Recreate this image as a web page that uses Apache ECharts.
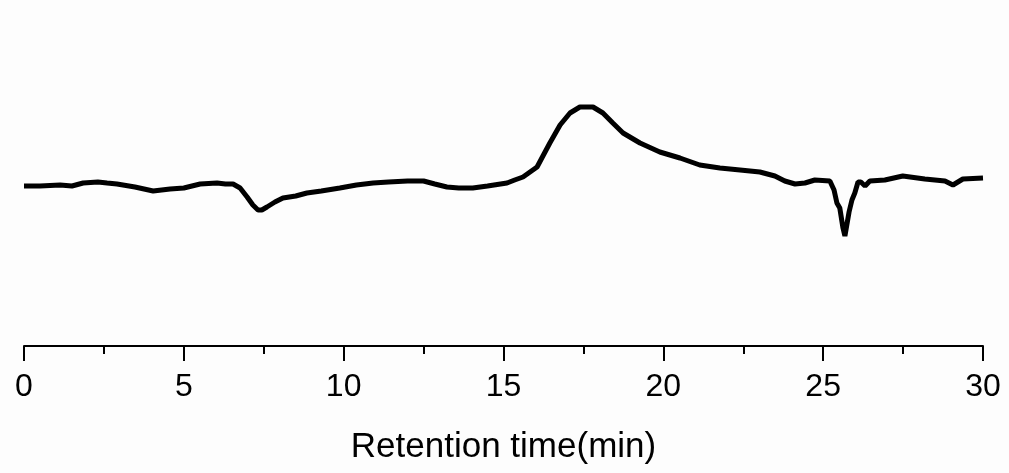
<!DOCTYPE html>
<html>
<head>
<meta charset="utf-8">
<script src="https://cdn.jsdelivr.net/npm/echarts@6/dist/echarts.min.js"></script>
<style>
html,body{margin:0;padding:0;background:#fdfdfd;}
#chart{width:1009px;height:473px;}
</style>
</head>
<body>
<div id="chart"></div>
<script>
// Retention time (min)
const times = [0.00,0.50,1.13,1.50,1.85,2.31,2.60,2.91,3.47,4.04,4.57,5.00,5.51,6.04,6.30,6.54,6.76,6.98,7.16,7.32,7.44,7.60,7.85,8.10,8.50,8.85,9.30,9.88,10.40,10.92,11.40,12.00,12.50,12.85,13.23,13.60,14.04,14.50,15.11,15.35,15.61,15.83,16.05,16.20,16.45,16.77,17.08,17.39,17.80,18.11,18.42,18.74,19.27,19.89,20.52,21.14,21.77,22.40,23.02,23.49,23.80,24.12,24.43,24.74,25.21,25.34,25.43,25.52,25.62,25.68,25.74,25.81,25.90,25.99,26.09,26.18,26.31,26.46,26.93,27.49,28.18,28.81,29.06,29.37,30.00];
// Detector signal (arbitrary units)
const signal = [160,160,161,160,163,164,163,162,159,155,157,158,162,163,162,162,158,149,141,136,136,139,144,148,150,153,155,158,161,163,164,165,165,162,159,158,158,160,163,166,169,174,179,188,203,221,233,239,239,233,223,213,203,194,188,181,178,176,174,170,165,162,163,166,165,156,143,138,118,110,112,134,146,153,164,164,160,165,166,170,167,165,161,167,168];
const xTicks = [0,5,10,15,20,25,30];
const xTitle = 'Retention time(min)';

const data = times.map((t,i)=>[t, signal[i]]);
const chart = echarts.init(document.getElementById('chart'));
chart.setOption({
  backgroundColor:'#fdfdfd',
  animation:false,
  grid:{left:24,right:26,top:46,bottom:127},
  xAxis:{
    type:'value', min:xTicks[0], max:xTicks[xTicks.length-1], interval:5,
    name:xTitle, nameLocation:'middle', nameGap:84,
    nameTextStyle:{fontFamily:'Liberation Sans, Arial, sans-serif',fontSize:35,color:'#000'},
    axisLine:{show:true,onZero:false,lineStyle:{color:'#000',width:2}},
    axisTick:{show:true,length:15,lineStyle:{color:'#000',width:2}},
    minorTick:{show:true,splitNumber:2,length:8,lineStyle:{color:'#000',width:2}},
    splitLine:{show:false},
    axisLabel:{fontFamily:'Liberation Sans, Arial, sans-serif',fontSize:32,color:'#000',margin:25}
  },
  yAxis:{type:'value',min:0,max:300,show:false},
  series:[{
    type:'line', data:data, showSymbol:false, smooth:false,
    lineStyle:{color:'#000',width:5}
  }]
});
</script>
</body>
</html>
